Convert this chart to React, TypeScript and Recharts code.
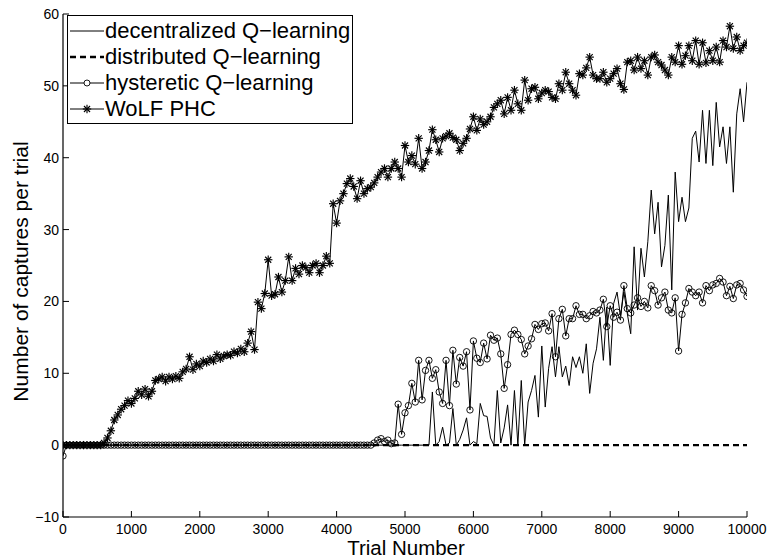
import React from 'react';
import { LineChart, Line, XAxis, YAxis, Legend, Label } from 'recharts';

// sampled every 50 trials, 0 .. 10000 (201 points per series)
const STEP = 50;

const decentralized = [
  0, 0, 0, 0, 0, 0, 0, 0, 0, 0,
  0, 0, 0, 0, 0, 0, 0, 0, 0, 0,
  0, 0, 0, 0, 0, 0, 0, 0, 0, 0,
  0, 0, 0, 0, 0, 0, 0, 0, 0, 0,
  0, 0, 0, 0, 0, 0, 0, 0, 0, 0,
  0, 0, 0, 0, 0, 0, 0, 0, 0, 0,
  0, 0, 0, 0, 0, 0, 0, 0, 0, 0,
  0, 0, 0, 0, 0, 0, 0, 0, 0, 0,
  0, 0, 0, 0, 0, 0, 0, 0, 0, 0,
  0, 0, 0, 0, 0, 0, 0, 0, 0, 0,
  0, 0, 0, 0, 0, 0, 0, 0, 7.4, 0,
  0.5, 2.5, 0, 0.3, 5.1, 0, 0.8, 2.1, 3.8, 0,
  0.5, 0.2, 5.8, 4.1, 4, 1, 0, 7.6, 0.3, 2.4,
  5.6, 0, 7.6, 0, 9, 0, 6, 7.6, 9.7, 3.9,
  13.8, 5.3, 10.7, 13.7, 9.5, 13.7, 9.5, 11, 8.3, 12.3,
  10.8, 12.3, 10, 14.1, 7.2, 11.4, 13.4, 17.8, 11.8, 19.2,
  11.1, 19.7, 21.3, 18, 21.3, 18.3, 15.5, 27.6, 18.8, 27.4,
  23.4, 28.3, 35.5, 29.4, 33.8, 24.8, 27.8, 34.8, 21.6, 38,
  31.1, 34.5, 31.1, 33, 42.7, 43.7, 39.4, 46.6, 39.2, 46.6,
  38.9, 47.7, 41.5, 44.3, 39.2, 44.3, 35.2, 46.1, 49.6, 45,
  50.5,
];

const distributed = [
  0, 0, 0, 0, 0, 0, 0, 0, 0, 0,
  0, 0, 0, 0, 0, 0, 0, 0, 0, 0,
  0, 0, 0, 0, 0, 0, 0, 0, 0, 0,
  0, 0, 0, 0, 0, 0, 0, 0, 0, 0,
  0, 0, 0, 0, 0, 0, 0, 0, 0, 0,
  0, 0, 0, 0, 0, 0, 0, 0, 0, 0,
  0, 0, 0, 0, 0, 0, 0, 0, 0, 0,
  0, 0, 0, 0, 0, 0, 0, 0, 0, 0,
  0, 0, 0, 0, 0, 0, 0, 0, 0, 0,
  0, 0, 0, 0, 0, 0, 0, 0, 0, 0,
  0, 0, 0, 0, 0, 0, 0, 0, 0, 0,
  0, 0, 0, 0, 0, 0, 0, 0, 0, 0,
  0, 0, 0, 0, 0, 0, 0, 0, 0, 0,
  0, 0, 0, 0, 0, 0, 0, 0, 0, 0,
  0, 0, 0, 0, 0, 0, 0, 0, 0, 0,
  0, 0, 0, 0, 0, 0, 0, 0, 0, 0,
  0, 0, 0, 0, 0, 0, 0, 0, 0, 0,
  0, 0, 0, 0, 0, 0, 0, 0, 0, 0,
  0, 0, 0, 0, 0, 0, 0, 0, 0, 0,
  0, 0, 0, 0, 0, 0, 0, 0, 0, 0,
  0,
];

const hysteretic = [
  -1.5, 0, 0, 0, 0, 0, 0, 0, 0, 0,
  0, 0, 0, 0, 0, 0, 0, 0, 0, 0,
  0, 0, 0, 0, 0, 0, 0, 0, 0, 0,
  0, 0, 0, 0, 0, 0, 0, 0, 0, 0,
  0, 0, 0, 0, 0, 0, 0, 0, 0, 0,
  0, 0, 0, 0, 0, 0, 0, 0, 0, 0,
  0, 0, 0, 0, 0, 0, 0, 0, 0, 0,
  0, 0, 0, 0, 0, 0, 0, 0, 0, 0,
  0, 0, 0, 0, 0, 0, 0, 0, 0, 0,
  0, 0.3, 0.7, 0.9, 0.5, 0.7, 0.2, 0.3, 5.7, 1.5,
  4.5, 5.5, 8.6, 6, 11.8, 6.3, 10.4, 11.8, 9.3, 10.5,
  7.4, 5.8, 11.8, 5.5, 13.2, 8.5, 12.2, 11, 13, 4.9,
  14.5, 12.1, 11.5, 14.2, 12, 15.3, 14.6, 14.9, 12.7, 7.9,
  11.2, 15.4, 16, 15.4, 14.7, 12.7, 13.8, 14.8, 16.8, 16.1,
  16.9, 17, 15.9, 18.3, 12.3, 17.6, 18.9, 15.2, 17.6, 17.6,
  19.4, 18.2, 18.2, 17.6, 18, 18.6, 18.4, 18.8, 20.3, 16.5,
  19.4, 17.8, 18.5, 17.4, 22.2, 19, 18.4, 19.5, 20.5, 19.3,
  20, 19.1, 22.2, 21.5, 19.5, 20.5, 21.3, 18.8, 18.4, 20.5,
  13.1, 18.2, 19.8, 21.8, 21.3, 20.8, 21.3, 19.8, 22.2, 21.5,
  22.3, 22.5, 23.2, 22.7, 20.8, 22.1, 20.4, 22.3, 22.5, 21.6,
  20.7,
];

const wolfPhc = [
  0, 0, 0, 0, 0, 0, 0, 0, 0, 0,
  0, 0, 0.3, 1, 2, 3.5, 4.2, 5, 5.5, 6.2,
  5.8, 6.5, 7.5, 7, 7.8, 6.8, 7.5, 9, 9.2, 9.5,
  8.9, 9.5, 9.2, 9.6, 9.3, 10.2, 10.6, 12.3, 10.5, 11.3,
  11, 11.7, 11.5, 12, 11.7, 12.6, 12, 12.4, 12.6, 12.5,
  13, 12.8, 13.4, 13, 14.2, 15.8, 13.3, 19.9, 19, 21.1,
  25.8, 20.8, 21, 23.4, 21.3, 22.9, 26.2, 22.9, 24.6, 23.8,
  25, 24.7, 24, 25, 25.3, 24, 25, 26.3, 25.3, 33.6,
  30.9, 34, 35, 36.4, 37.1, 36, 34.3, 36.8, 35, 35.7,
  35.9, 36.5, 37.3, 38, 38.5, 37.3, 38.5, 39.4, 38.5, 37.3,
  41.7, 39.4, 40.3, 39.1, 42.7, 38.5, 39.4, 41, 43.9, 42.5,
  40.8, 42.7, 43, 43.4, 42.8, 42.5, 41, 42, 42.7, 44,
  45.7, 43.8, 45.4, 44.6, 45, 45.7, 47, 47.5, 48, 46.1,
  48.4, 46.6, 49.4, 47.5, 46.6, 50.8, 48, 49.6, 49.8, 48.2,
  49, 49.4, 49.2, 48.4, 48.2, 50.3, 49.4, 51.9, 50.3, 49.4,
  48.7, 51.7, 51.5, 52.5, 54, 51.5, 51, 51, 51.9, 50.5,
  51, 51.7, 52.4, 50.3, 49.5, 53.3, 53.5, 52.2, 54, 52.4,
  53.5, 51.5, 54, 54.3, 53.3, 52.9, 52.2, 51.5, 54, 53.3,
  55.6, 53, 54.2, 55.6, 53.5, 56.3, 53, 56, 53.2, 54.9,
  53.5, 55.4, 53.3, 56.3, 55.4, 58.3, 55.2, 56.8, 54.9, 55.6,
  56,
];

const xTicks = [0, 1000, 2000, 3000, 4000, 5000, 6000, 7000, 8000, 9000, 10000];
const yTicks = [-10, 0, 10, 20, 30, 40, 50, 60];

const seriesNames = [
  'decentralized Q\u2212learning',
  'distributed Q\u2212learning',
  'hysteretic Q\u2212learning',
  'WoLF PHC',
];

const data = wolfPhc.map((_, i) => ({
  trial: i * STEP,
  decentralized: decentralized[i],
  distributed: distributed[i],
  hysteretic: hysteretic[i],
  wolf: wolfPhc[i],
}));

const FONT = '"Liberation Sans", Arial, Helvetica, sans-serif';
const TICK_LEN = 6;

const fmt = (v: number) => (v < 0 ? `\u2212${Math.abs(v)}` : `${v}`);

function BottomTick(props: any) {
  const { x, y, payload } = props;
  return (
    <g>
      <line x1={x} y1={y} x2={x} y2={y - TICK_LEN} stroke="#000" />
      <text x={x} y={y + 17} textAnchor="middle" fontSize={14} fill="#000">
        {fmt(payload.value)}
      </text>
    </g>
  );
}

function TopTick(props: any) {
  const { x, y } = props;
  return <line x1={x} y1={y} x2={x} y2={y + TICK_LEN} stroke="#000" />;
}

function LeftTick(props: any) {
  const { x, y, payload } = props;
  return (
    <g>
      <line x1={x} y1={y} x2={x + TICK_LEN} y2={y} stroke="#000" />
      <text x={x - 4} y={y + 5} textAnchor="end" fontSize={14} fill="#000">
        {fmt(payload.value)}
      </text>
    </g>
  );
}

function RightTick(props: any) {
  const { x, y } = props;
  return <line x1={x} y1={y} x2={x - TICK_LEN} y2={y} stroke="#000" />;
}

function CircleDot(props: any) {
  const { cx, cy, index } = props;
  if (cx == null || cy == null) return <g key={`h${index}`} />;
  return <circle key={`h${index}`} cx={cx} cy={cy} r={3.2} fill="none" stroke="#000" strokeWidth={0.9} />;
}

function Star({ cx, cy, r = 4.2 }: { cx: number; cy: number; r?: number }) {
  const d = r * 0.72;
  return (
    <g stroke="#000" strokeWidth={1.15}>
      <line x1={cx} y1={cy - r} x2={cx} y2={cy + r} />
      <line x1={cx - r} y1={cy} x2={cx + r} y2={cy} />
      <line x1={cx - d} y1={cy - d} x2={cx + d} y2={cy + d} />
      <line x1={cx - d} y1={cy + d} x2={cx + d} y2={cy - d} />
    </g>
  );
}

function StarDot(props: any) {
  const { cx, cy, index } = props;
  if (cx == null || cy == null) return <g key={`w${index}`} />;
  return (
    <g key={`w${index}`}>
      <Star cx={cx} cy={cy} />
    </g>
  );
}

function LegendBox() {
  const row = (i: number, sample: React.ReactNode) => (
    <div key={i} style={{ display: 'flex', alignItems: 'center', height: 26 }}>
      <svg width={36} height={26} style={{ display: 'block' }}>
        {sample}
      </svg>
      <span style={{ fontSize: 22, lineHeight: '26px', color: '#000', whiteSpace: 'nowrap' }}>
        {seriesNames[i]}
      </span>
    </div>
  );
  return (
    <div
      style={{
        width: 286,
        height: 109,
        boxSizing: 'border-box',
        border: '1.3px solid #000',
        background: '#fff',
        padding: '2px 0 0 1px',
        fontFamily: FONT,
      }}
    >
      {row(0, <line x1={1} y1={13} x2={35} y2={13} stroke="#000" strokeWidth={1} />)}
      {row(1, <line x1={1} y1={13} x2={35} y2={13} stroke="#000" strokeWidth={2.4} strokeDasharray="6 4" />)}
      {row(
        2,
        <g>
          <line x1={1} y1={13} x2={35} y2={13} stroke="#000" strokeWidth={1} />
          <circle cx={18} cy={13} r={3} fill="#fff" stroke="#000" strokeWidth={0.9} />
        </g>
      )}
      {row(
        3,
        <g>
          <line x1={1} y1={13} x2={35} y2={13} stroke="#000" strokeWidth={1} />
          <Star cx={18} cy={13} />
        </g>
      )}
    </div>
  );
}

function TrialLabel(props: any) {
  const vb = props.viewBox || { x: 63, y: 517, width: 684, height: 41 };
  return (
    <text x={vb.x + vb.width / 2 + 1} y={555} textAnchor="middle" fontSize={20.5} fill="#000">
      Trial Number
    </text>
  );
}

function CapturesLabel(props: any) {
  const vb = props.viewBox || { x: 0, y: 14, width: 63, height: 503 };
  const cy = vb.y + vb.height / 2 + 6;
  return (
    <text
      transform={`translate(28, ${cy}) rotate(-90)`}
      textAnchor="middle"
      fontSize={21}
      fill="#000"
    >
      Number of captures per trial
    </text>
  );
}

export default function App() {
  return (
    <div style={{ position: 'absolute', left: 0, top: 0, width: 768, height: 558, background: '#fff', fontFamily: FONT }}>
      <LineChart width={768} height={558} data={data} margin={{ top: 14, right: 21, bottom: 0, left: 0 }}>
        <XAxis
          xAxisId="bottom"
          dataKey="trial"
          type="number"
          domain={[0, 10000]}
          ticks={xTicks}
          interval={0}
          height={41}
          axisLine={{ stroke: '#000', strokeWidth: 1.2 }}
          tickLine={false}
          tickSize={0}
          tickMargin={0}
          tick={BottomTick}
          allowDataOverflow
        >
          <Label content={TrialLabel} />
        </XAxis>
        <XAxis
          xAxisId="top"
          orientation="top"
          dataKey="trial"
          type="number"
          domain={[0, 10000]}
          ticks={xTicks}
          interval={0}
          height={0}
          axisLine={{ stroke: '#000', strokeWidth: 1.2 }}
          tickLine={false}
          tickSize={0}
          tickMargin={0}
          tick={TopTick}
          allowDataOverflow
        />
        <YAxis
          yAxisId="left"
          type="number"
          domain={[-10, 60]}
          ticks={yTicks}
          interval={0}
          width={63}
          axisLine={{ stroke: '#000', strokeWidth: 1.2 }}
          tickLine={false}
          tickSize={0}
          tickMargin={0}
          tick={LeftTick}
          allowDataOverflow
        >
          <Label content={CapturesLabel} />
        </YAxis>
        <YAxis
          yAxisId="right"
          orientation="right"
          type="number"
          domain={[-10, 60]}
          ticks={yTicks}
          interval={0}
          width={0}
          axisLine={{ stroke: '#000', strokeWidth: 1.2 }}
          tickLine={false}
          tickSize={0}
          tickMargin={0}
          tick={RightTick}
          allowDataOverflow
        />

        <Legend
          layout="horizontal"
          verticalAlign="middle"
          align="center"
          content={() => <LegendBox />}
          wrapperStyle={{ position: 'absolute', top: 15, left: 67, width: 286, height: 109 }}
        />

        <Line
          xAxisId="bottom"
          yAxisId="left"
          type="linear"
          dataKey="decentralized"
          name={seriesNames[0]}
          stroke="#000"
          strokeWidth={1}
          dot={false}
          activeDot={false}
          isAnimationActive={false}
        />
        <Line
          xAxisId="bottom"
          yAxisId="left"
          type="linear"
          dataKey="distributed"
          name={seriesNames[1]}
          stroke="#000"
          strokeWidth={2.4}
          strokeDasharray="6 4"
          dot={false}
          activeDot={false}
          isAnimationActive={false}
        />
        <Line
          xAxisId="bottom"
          yAxisId="left"
          type="linear"
          dataKey="hysteretic"
          name={seriesNames[2]}
          stroke="#000"
          strokeWidth={1}
          dot={CircleDot}
          activeDot={false}
          isAnimationActive={false}
        />
        <Line
          xAxisId="bottom"
          yAxisId="left"
          type="linear"
          dataKey="wolf"
          name={seriesNames[3]}
          stroke="#000"
          strokeWidth={1}
          dot={StarDot}
          activeDot={false}
          isAnimationActive={false}
        />
      </LineChart>
    </div>
  );
}
